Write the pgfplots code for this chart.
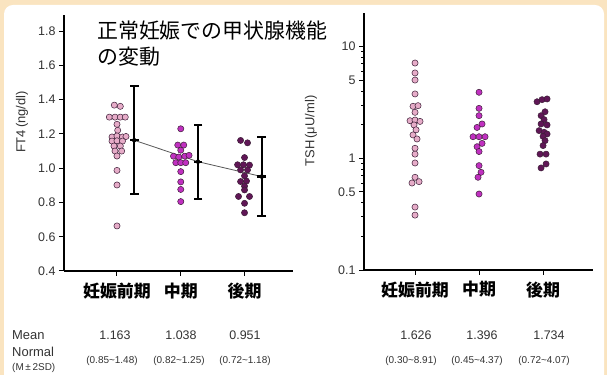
\documentclass[border=0pt]{standalone}
\usepackage{pgfplots}
\pgfplotsset{compat=1.18}
\usepackage{fontspec}
\setmainfont{Liberation Sans}
\newfontfamily\cjk{Noto Sans CJK JP}
\definecolor{bgcream}{RGB}{250,228,192}
\definecolor{gA}{RGB}{230,172,200}
\definecolor{gB}{RGB}{192,48,192}
\definecolor{gC}{RGB}{96,22,86}
\definecolor{edge}{RGB}{60,30,55}
\definecolor{txt}{RGB}{51,51,51}

\pgfplotstableread{
x y
0.958 1.368
1.052 1.361
0.880 1.298
0.969 1.298
1.052 1.298
1.130 1.298
1.000 1.256
1.011 1.221
0.922 1.182
1.000 1.188
1.086 1.182
1.141 1.185
0.922 1.158
1.000 1.160
1.086 1.158
0.953 1.129
1.052 1.129
0.969 1.100
1.073 1.100
1.000 1.071
1.000 0.987
1.000 0.902
1.000 0.663
}\ftA
\pgfplotstableread{
x y
2.000 1.230
1.953 1.135
2.047 1.135
2.000 1.105
1.886 1.070
1.969 1.065
2.063 1.070
2.130 1.075
1.922 1.032
2.000 1.032
2.078 1.032
2.000 0.980
2.000 0.920
2.000 0.876
2.000 0.805
}\ftB
\pgfplotstableread{
x y
2.938 1.162
3.047 1.148
3.000 1.062
2.891 1.020
2.984 1.020
3.078 1.018
2.938 0.990
3.047 0.990
3.000 0.955
2.938 0.922
3.031 0.925
3.000 0.895
3.000 0.873
2.906 0.835
3.078 0.835
3.000 0.795
3.000 0.740
}\ftC
\pgfplotstableread{
x y
1.000 7.13
1.000 5.81
1.000 5.02
1.000 3.77
0.969 2.92
1.047 2.96
1.000 2.58
0.922 2.17
1.000 2.20
1.078 2.14
0.984 1.99
1.016 1.80
0.969 1.62
1.031 1.49
1.000 1.23
1.000 1.09
1.000 0.908
1.000 0.676
1.063 0.618
0.953 0.601
1.000 0.366
1.000 0.310
}\tsA
\pgfplotstableread{
x y
2.000 3.90
2.000 2.80
2.000 2.41
2.047 2.03
1.969 1.89
1.906 1.56
2.000 1.56
2.094 1.56
2.047 1.36
1.969 1.27
2.000 1.15
2.000 0.86
2.031 0.75
1.984 0.676
2.000 0.479
}\tsB
\pgfplotstableread{
x y
2.906 3.21
2.984 3.35
3.063 3.40
3.031 2.61
2.969 2.41
3.016 2.22
2.969 2.03
3.063 1.99
2.938 1.77
3.016 1.71
3.063 1.65
3.000 1.57
3.031 1.44
3.000 1.30
2.953 1.09
3.047 1.09
3.047 0.89
2.969 0.82
}\tsC
\pgfplotstableread{
x y ep em
1.27 1.163 0.317 0.313
2.27 1.038 0.212 0.218
3.27 0.951 0.229 0.231
}\ftErr
\pgfplotstableread{
x y
1.27 1.48
1.27 0.85
1.27 1.163
2.27 1.25
2.27 0.82
2.27 1.038
3.27 1.18
3.27 0.72
3.27 0.951
}\ftCaps

\pgfplotsset{
  myaxis/.style={
    scale only axis, width=229bp,
    axis lines=left, axis line style={-, line width=1.6bp, black},
    xtick={1,2,3}, xticklabels={妊娠前期,中期,後期},
    xticklabel style={font=\cjk\bfseries\fontsize{17}{19}\selectfont, text=black, yshift=-3bp},
    yticklabel style={font=\fontsize{12.5}{14}\selectfont, text=txt},
    tick align=outside, major tick length=5bp, minor tick length=3bp,
    tick style={black, line width=1bp},
    clip=false,
  },
  dots/.style={only marks, mark=*, mark size=3.1bp,
    mark options={fill=#1, draw=edge, line width=0.5bp}},
}

\begin{document}
\begin{tikzpicture}
\useasboundingbox (0bp,0bp) rectangle (607bp,375bp);
\fill[bgcream] (0bp,0bp) rectangle (607bp,375bp);
\fill[white, rounded corners=9bp] (4bp,-20bp) rectangle (604bp,370bp);

\begin{axis}[myaxis, at={(64bp,104bp)}, anchor=south west, height=256bp,
  xmin=0.169, xmax=3.76, ymin=0.4, ymax=1.894,
  ytick={0.4,0.6,0.8,1.0,1.2,1.4,1.6,1.8},
  yticklabels={0.4,0.6,0.8,1.0,1.2,1.4,1.6,1.8}]
\addplot[dots=gA] table[x=x,y=y]{\ftA};
\addplot[dots=gB] table[x=x,y=y]{\ftB};
\addplot[dots=gC] table[x=x,y=y]{\ftC};
\addplot[black!65, line width=0.8bp] table[x=x,y=y]{\ftErr};
\addplot[only marks, mark=none, black,
  error bars/.cd, y dir=both, y explicit, error mark=none,
  error bar style={line width=2.2bp, black}]
  table[x=x, y=y, y error plus=ep, y error minus=em]{\ftErr};
\addplot[only marks, mark=-, mark size=4.3bp, mark options={line width=2.2bp, black}] table[x=x,y=y]{\ftCaps};
\end{axis}

\begin{axis}[myaxis, at={(364bp,105bp)}, anchor=south west, height=257bp,
  xmin=0.203, xmax=3.78, ymode=log, ymin=0.1, ymax=20,
  ytick={0.1,0.5,1,5,10}, yticklabels={0.1,0.5,1,5,10},
  minor ytick={0.2,0.3,0.4,0.6,0.7,0.8,0.9,2,3,4,6,7,8,9}]
\addplot[dots=gA] table[x=x,y=y]{\tsA};
\addplot[dots=gB] table[x=x,y=y]{\tsB};
\addplot[dots=gC] table[x=x,y=y]{\tsC};
\end{axis}

\node[rotate=90, text=txt, font=\fontsize{13}{15}\selectfont] at (22bp,253bp) {FT4\,(ng/dl)};
\node[rotate=90, text=txt, font=\fontsize{13}{15}\selectfont] at (311bp,244bp) {TSH\,(μU/ml)};

\node[anchor=west, inner sep=0pt, font=\cjk\fontsize{21}{21}\selectfont] at (97bp,344bp) {正常妊娠での甲状腺機能};
\node[anchor=west, inner sep=0pt, font=\cjk\fontsize{21}{21}\selectfont] at (97bp,318bp) {の変動};

\begin{scope}[every node/.style={text=txt, inner sep=0pt}]
\node[anchor=west, font=\fontsize{13}{14}\selectfont] at (12bp,40bp) {Mean};
\node[anchor=west, font=\fontsize{13}{14}\selectfont] at (12bp,23bp) {Normal};
\node[anchor=west, font=\fontsize{10}{12}\selectfont] at (12bp,7bp) {(M\,±\,2SD)};
\foreach \xx/\tt in {115/1.163, 181/1.038, 245/0.951, 416/1.626, 482/1.396, 549/1.734}
  \node[font=\fontsize{12.5}{14}\selectfont] at (\xx bp,40bp) {\tt};
\foreach \xx/\tt in {112/0.85\textasciitilde 1.48, 179/0.82\textasciitilde 1.25, 245/0.72\textasciitilde 1.18, 411/0.30\textasciitilde 8.91, 477/0.45\textasciitilde 4.37, 544/0.72\textasciitilde 4.07}
  \node[font=\fontsize{10}{12}\selectfont] at (\xx bp,14bp) {(\tt)};
\end{scope}
\end{tikzpicture}
\end{document}
